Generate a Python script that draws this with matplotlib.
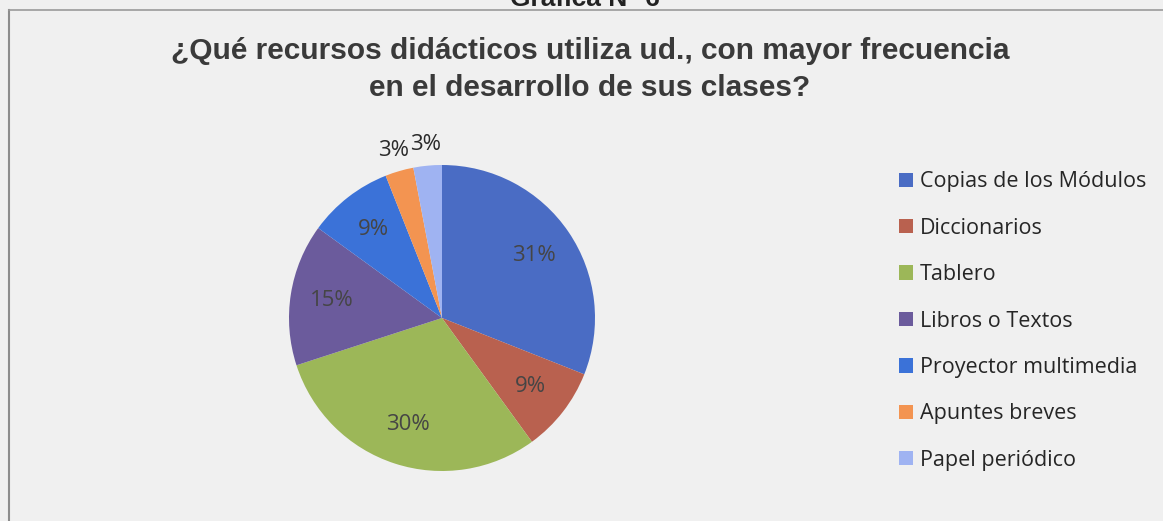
import matplotlib
matplotlib.use("Agg")
import matplotlib.pyplot as plt
import numpy as np

categories = ["Copias de los Módulos", "Diccionarios", "Tablero", "Libros o Textos",
              "Proyector multimedia", "Apuntes breves", "Papel periódico"]
values = [31, 9, 30, 15, 9, 3, 3]
colors = ["#4a6cc4", "#b9614f", "#9cb758", "#6b5b9c", "#3b72d8", "#f39451", "#9fb3f2"]
title_lines = ["¿Qué recursos didácticos utiliza ud., con mayor frecuencia",
               "en el desarrollo de sus clases?"]
top_caption = "Grafica N° 6"

W, H = 1163, 521
fig = plt.figure(figsize=(W / 100, H / 100), dpi=100)
fig.patch.set_facecolor("#f0f0f0")

# frame lines (left and top)
fig.add_artist(plt.Line2D([9 / W, 9 / W], [0, 1 - 10 / H], color="#8c8c8c", lw=1.5))
fig.add_artist(plt.Line2D([9 / W, 1], [1 - 10 / H, 1 - 10 / H], color="#9a9a9a", lw=1.2))

# caption at very top (partly outside the picture, as in the reference)
fig.text(585 / W, 1 - 6 / H, top_caption, ha="center", va="baseline", fontsize=19,
         fontweight="bold", family="Liberation Sans", color="#222222")

for yy, line in zip([51, 88], title_lines):
    fig.text(590 / W, 1 - yy / H, line, ha="center", va="center", fontsize=21.5,
             fontweight="bold", family="Liberation Sans", color="#3a3a3a")

cx, cy, R = 442, 318, 153
box = 170
ax = fig.add_axes([(cx - box) / W, (H - cy - box) / H, 2 * box / W, 2 * box / H])
ax.set_facecolor("none")
wedges, texts, autotexts = ax.pie(values, colors=colors, startangle=90, counterclock=False,
                                  radius=R / box, autopct="%1.0f%%", pctdistance=0.73,
                                  textprops=dict(fontsize=16, color="#454545", family="Open Sans"))
ax.set_xlim(-1, 1)
ax.set_ylim(-1, 1)
ax.set_aspect("equal")

# small slices: labels outside
total = sum(values)
cum = 0
for i, v in enumerate(values):
    mid = 90 - (cum + v / 2) / total * 360
    cum += v
    if v <= 3:
        d = 1.14 * R / box
        ang = np.deg2rad(mid)
        autotexts[i].set_position((d * np.cos(ang), d * np.sin(ang)))
        autotexts[i].set_color("#2a2a2a")

leg = fig.legend(wedges, categories, loc="upper left",
                 bbox_to_anchor=(880 / W, 1 - 152 / H), frameon=False,
                 handlelength=0.65, handleheight=0.65, handletextpad=0.3,
                 labelspacing=1.18, prop=dict(family="Open Sans", size=15.5))
for t in leg.get_texts():
    t.set_color("#262626")

fig.savefig("out.png", dpi=100, facecolor=fig.get_facecolor())
